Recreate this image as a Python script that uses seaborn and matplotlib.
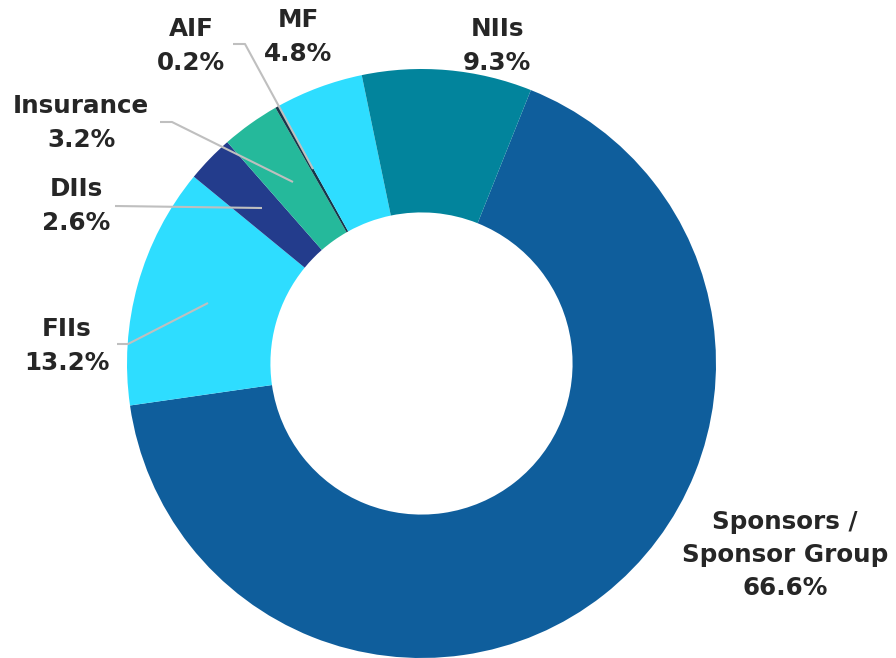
import matplotlib
matplotlib.use("Agg")
import matplotlib.pyplot as plt
import seaborn as sns

# Shareholding pattern
categories = ["Sponsors /\nSponsor Group", "FIIs", "DIIs", "Insurance", "AIF", "MF", "NIIs"]
shares = [66.6, 13.2, 2.6, 3.2, 0.2, 4.8, 9.3]
colors = ["#0F5E9C", "#2EDDFF", "#233C8C", "#25B99B", "#17364A", "#2EDDFF", "#02849C"]

sns.set_theme(style="white")
plt.rcParams["font.family"] = ["DejaVu Sans"]

W, H, DPI = 896, 658, 100
fig = plt.figure(figsize=(W / DPI, H / DPI), dpi=DPI)
ax = fig.add_axes([0, 0, 1, 1])

CX, CY, R = 421.5, 363.5, 294.5


def to_data(px, py):
    return (px - CX) / R, (CY - py) / R


ax.pie(shares, colors=colors, startangle=68.2, counterclock=False,
       radius=1.0, wedgeprops=dict(width=0.487, linewidth=0))

ax.set_xlim(-CX / R, (W - CX) / R)
ax.set_ylim(-(H - CY) / R, CY / R)
ax.set_aspect("equal")
ax.axis("off")

# Leader lines (pixel polylines converted to data coords)
leaders = {
    "FIIs": [(208, 303), (128, 344), (117, 344)],
    "DIIs": [(262, 208), (115, 206)],
    "Insurance": [(293, 182), (172, 122), (160, 122)],
    "AIF": [(313, 169), (245, 44), (233, 44)],
}
for pts in leaders.values():
    xs, ys = zip(*[to_data(*p) for p in pts])
    ax.plot(xs, ys, color="#BFBFBF", lw=1.5, solid_capstyle="butt")

# Label anchor centres (pixels)
label_pos = {
    "Sponsors /\nSponsor Group": (785, 555),
    "FIIs": (67, 346),
    "DIIs": (76, 206),
    "Insurance": (81, 123),
    "AIF": (191, 46),
    "MF": (298, 37),
    "NIIs": (497, 46),
}
for cat, val in zip(categories, shares):
    px, py = label_pos[cat]
    x, y = to_data(px, py)
    ax.text(x, y, f"{cat}\n{val:.1f}%", ha="center", va="center",
            fontsize=17.7, fontweight="bold", color="#262626",
            linespacing=1.49)

fig.savefig("out.png", dpi=DPI)
